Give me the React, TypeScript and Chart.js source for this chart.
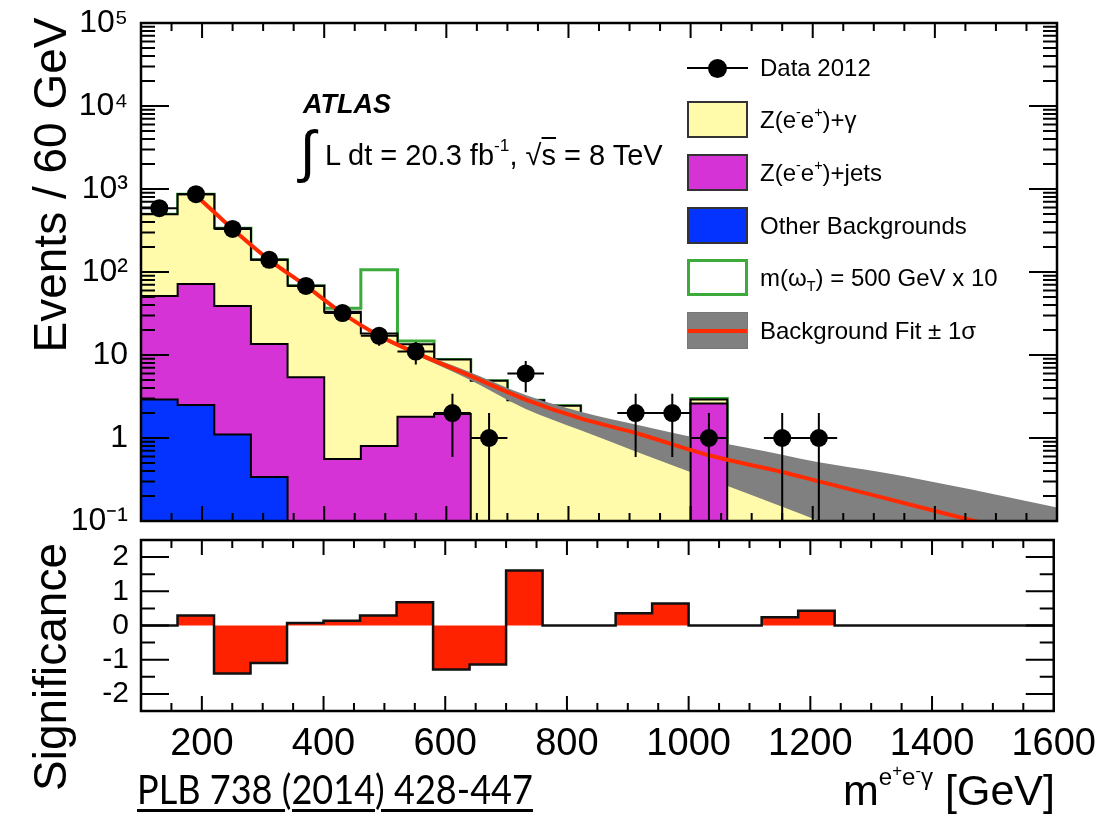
import React, { useEffect, useRef } from 'react';
import { Chart, registerables } from 'chart.js';

Chart.register(...registerables);

// ---------------- data ----------------
const BIN_LOW = [100, 160, 220, 280, 340, 400, 460, 520, 580, 640, 700, 760, 820, 880, 940, 1000, 1060, 1120, 1180, 1240, 1300, 1360, 1420, 1480, 1540];
const BIN_WIDTH = 60;
const X_MIN = 100;
const X_MAX = 1600;

const OTHER_BKG = [2.9, 2.5, 1.1, 0.34, 0, 0, 0, 0, 0, 0, 0, 0, 0, 0, 0, 0, 0, 0, 0, 0, 0, 0, 0, 0, 0];
const Z_JETS = [48.5, 69, 37.8, 13.2, 5.4, 0.56, 0.8, 1.8, 1.94, 0, 0, 0, 0, 0, 0, 2.6, 0, 0, 0, 0, 0, 0, 0, 0, 0];
const Z_GAMMA = [445, 793, 298, 127, 63, 32.6, 17.4, 11.7, 6.9, 4.9, 2.85, 2.45, 1.4, 1.1, 0.85, 0.3, 0.5, 0.3, 0.15, 0, 0, 0, 0, 0, 0];
const SIGNAL_X10 = [0, 0, 0, 0, 0, 3.3, 88, 1.2, 0, 0, 0, 0, 0, 0, 0, 0.1, 0, 0, 0, 0, 0, 0, 0, 0, 0];
const DATA_2012 = [587, 865, 330, 140, 68, 32, 17, 11, 2, 1, 6, 0, 0, 2, 2, 1, 0, 1, 1, 0, 0, 0, 0, 0, 0];
const DATA_ERR = [24, 29, 18, 12, 8.2, 5.7, 4.1, 3.3, 1.41, 1, 2.45, 0, 0, 1.41, 1.41, 1, 0, 1, 1, 0, 0, 0, 0, 0, 0];

const FIT_X = [195, 250, 310, 370, 430, 490, 550, 630, 730, 820, 910, 1030, 1150, 1210, 1310, 1460, 1600];
const FIT_Y = [775, 330, 140, 68, 31.8, 17.1, 10.6, 6.0, 2.9, 1.72, 1.15, 0.62, 0.39, 0.3, 0.195, 0.102, 0.057];
const BAND_X = [430, 490, 550, 630, 730, 820, 910, 1030, 1150, 1210, 1310, 1460, 1600];
const BAND_UP = [32.4, 17.6, 11.2, 6.6, 3.3, 2.07, 1.45, 0.93, 0.63, 0.51, 0.39, 0.24, 0.145];
const BAND_DOWN = [31.2, 16.2, 10.0, 5.4, 2.24, 1.24, 0.69, 0.32, 0.148, 0.1, 0.05, 0.02, 0.01];

const SIGNIFICANCE = [0, 0.29, -1.4, -1.1, 0.07, 0.14, 0.29, 0.68, -1.29, -1.14, 1.61, 0, 0, 0.36, 0.64, 0, 0, 0.24, 0.43, 0, 0, 0, 0, 0, 0];

const EVENT_TICKS = [0.1, 1, 10, 100, 1000, 10000, 100000];
const EVENT_TICK_LABELS = ['10\u207B\u00B9', '1', '10', '10\u00B2', '10\u00B3', '10\u2074', '10\u2075'];
const SIG_TICKS = [-2, -1, 0, 1, 2];
const X_TICKS = [200, 400, 600, 800, 1000, 1200, 1400, 1600];

// ---------------- styling ----------------
const SANS = '"Liberation Sans", Arial, Helvetica, sans-serif';
const NARROW = '"Liberation Sans Narrow", "Liberation Sans", Arial, sans-serif';
const COLORS = {
  yellow: '#fffbaa',
  magenta: '#d633d6',
  blue: '#0433ff',
  green: '#3cab3c',
  band: '#808080',
  fit: '#ff2a00',
  sig: '#ff2200',
};
const LOG_EMPTY = 1e-3; // empty bins on the log axis sit below its range

// tick-mark positions (axis decoration)
const X_MARKS: number[] = [];
for (let v = 150; v < X_MAX; v += 50) X_MARKS.push(v);
const LOG_MARKS: { v: number; major: boolean }[] = [];
for (const d of EVENT_TICKS) for (let k = 1; k <= 9; k++) LOG_MARKS.push({ v: k * d, major: k === 1 });
const SIG_MARKS: { v: number; major: boolean }[] = [];
for (let v = -2.5; v <= 2.5; v += 0.5) SIG_MARKS.push({ v, major: Number.isInteger(v) });

function stepPoints(vals: number[], floor?: number) {
  const pts = BIN_LOW.map((x, i) => ({ x, y: floor !== undefined ? Math.max(vals[i], floor) : vals[i] }));
  pts.push({ x: X_MAX, y: pts[pts.length - 1].y });
  return pts;
}
function sumArrays(...arrs: number[][]) {
  return arrs[0].map((_, i) => arrs.reduce((s, a) => s + a[i], 0));
}

function framePlugin(yMarks: { v: number; major: boolean }[]) {
  return {
    id: 'frameTicks',
    afterDatasetsDraw(chart: any) {
      const { ctx, chartArea: a } = chart;
      const xs = chart.scales.x;
      const ys = chart.scales.y;
      ctx.save();
      ctx.strokeStyle = '#000';
      ctx.lineWidth = 2;
      ctx.beginPath();
      for (const v of X_MARKS) {
        const px = xs.getPixelForValue(v);
        const len = v % 200 === 0 ? 15 : 8;
        ctx.moveTo(px, a.bottom);
        ctx.lineTo(px, a.bottom - len);
        ctx.moveTo(px, a.top);
        ctx.lineTo(px, a.top + len);
      }
      for (const m of yMarks) {
        const py = ys.getPixelForValue(m.v);
        if (py < a.top + 1 || py > a.bottom - 1) continue;
        const len = m.major ? 28 : 14;
        ctx.moveTo(a.left, py);
        ctx.lineTo(a.left + len, py);
        ctx.moveTo(a.right, py);
        ctx.lineTo(a.right - len, py);
      }
      ctx.stroke();
      ctx.lineWidth = 2.5;
      ctx.strokeRect(a.left, a.top, a.right - a.left, a.bottom - a.top);
      ctx.restore();
    },
  };
}

const errorBarPlugin = {
  id: 'errorBars',
  afterDatasetsDraw(chart: any) {
    const { ctx, chartArea: a } = chart;
    const xs = chart.scales.x;
    const ys = chart.scales.y;
    ctx.save();
    ctx.beginPath();
    ctx.rect(a.left, a.top, a.right - a.left, a.bottom - a.top);
    ctx.clip();
    ctx.strokeStyle = '#000';
    ctx.lineWidth = 2;
    ctx.beginPath();
    DATA_2012.forEach((n, i) => {
      if (n <= 0) return;
      const xc = xs.getPixelForValue(BIN_LOW[i] + BIN_WIDTH / 2);
      const x0 = xs.getPixelForValue(BIN_LOW[i]);
      const x1 = xs.getPixelForValue(BIN_LOW[i] + BIN_WIDTH);
      const y = ys.getPixelForValue(n);
      const lo = n - DATA_ERR[i];
      const yLo = lo > 0 ? ys.getPixelForValue(lo) : a.bottom;
      const yHi = ys.getPixelForValue(n + DATA_ERR[i]);
      ctx.moveTo(x0, y);
      ctx.lineTo(x1, y);
      ctx.moveTo(xc, yLo);
      ctx.lineTo(xc, yHi);
    });
    ctx.stroke();
    ctx.restore();
  },
};

// invisible grid ticks only provide the gap between tick labels and the frame
const Y_GRID = { display: true, drawOnChartArea: false, drawTicks: true, tickLength: 13, color: 'rgba(0,0,0,0)' };

function topConfig(): any {
  const stackOther = OTHER_BKG;
  const stackJets = sumArrays(OTHER_BKG, Z_JETS);
  const stackTotal = sumArrays(OTHER_BKG, Z_JETS, Z_GAMMA);
  const stackSignal = sumArrays(OTHER_BKG, Z_JETS, Z_GAMMA, SIGNAL_X10);
  const dataPts = DATA_2012.map((n, i) => ({ x: BIN_LOW[i] + BIN_WIDTH / 2, y: n })).filter((p) => p.y > 0);
  const step = { stepped: true, pointRadius: 0, tension: 0 };
  return {
    type: 'line',
    data: {
      datasets: [
        { ...step, label: 'signal', data: stepPoints(stackSignal, LOG_EMPTY), borderColor: COLORS.green, borderWidth: 3, fill: false, order: 10 },
        { ...step, label: 'Z+gamma', data: stepPoints(stackTotal, LOG_EMPTY), borderColor: '#000', borderWidth: 2, backgroundColor: COLORS.yellow, fill: { target: 2 }, order: 9 },
        { ...step, label: 'Z+jets', data: stepPoints(stackJets, LOG_EMPTY), borderColor: '#000', borderWidth: 2, backgroundColor: COLORS.magenta, fill: { target: 3 }, order: 7 },
        { ...step, label: 'other', data: stepPoints(stackOther, LOG_EMPTY), borderColor: '#000', borderWidth: 2, backgroundColor: COLORS.blue, fill: 'start', order: 6 },
        { label: 'band up', data: BAND_X.map((x, i) => ({ x, y: BAND_UP[i] })), pointRadius: 0, borderWidth: 0, borderColor: COLORS.band, backgroundColor: COLORS.band, cubicInterpolationMode: 'monotone', fill: { target: 5 }, order: 8 },
        { label: 'band down', data: BAND_X.map((x, i) => ({ x, y: BAND_DOWN[i] })), pointRadius: 0, borderWidth: 0, borderColor: COLORS.band, fill: false, cubicInterpolationMode: 'monotone', order: 8 },
        { label: 'fit', data: FIT_X.map((x, i) => ({ x, y: FIT_Y[i] })), pointRadius: 0, borderWidth: 4, borderColor: COLORS.fit, fill: false, cubicInterpolationMode: 'monotone', order: 5 },
        { label: 'data', data: dataPts, showLine: false, pointRadius: 9, pointBackgroundColor: '#000', pointBorderWidth: 0, borderColor: '#000', order: 4 },
      ],
    },
    options: {
      animation: false,
      responsive: false,
      devicePixelRatio: 1,
      events: [],
      layout: { padding: { top: 23, right: 42, left: 0, bottom: 0 } },
      plugins: { legend: { display: false }, tooltip: { enabled: false } },
      scales: {
        x: {
          type: 'linear', min: X_MIN, max: X_MAX,
          grid: { display: false }, border: { display: false },
          ticks: { display: false },
          afterFit: (s: any) => { s.height = 24; },
        },
        y: {
          type: 'logarithmic', min: 0.1, max: 100000,
          grid: Y_GRID, border: { display: false },
          afterBuildTicks: (s: any) => { s.ticks = EVENT_TICKS.map((v) => ({ value: v })); },
          ticks: {
            autoSkip: false, padding: 0, color: '#000',
            font: { family: NARROW, size: 32, lineHeight: 0.5 },
            callback: (v: number) => { const i = EVENT_TICKS.indexOf(v); return i >= 0 ? EVENT_TICK_LABELS[i] : ''; },
          },
          afterFit: (s: any) => { s.width = 141; },
        },
      },
    },
    plugins: [errorBarPlugin, framePlugin(LOG_MARKS)],
  };
}

function bottomConfig(): any {
  return {
    type: 'line',
    data: {
      datasets: [
        { label: 'significance', data: stepPoints(SIGNIFICANCE), stepped: true, pointRadius: 0, borderColor: '#111', borderWidth: 2.5, backgroundColor: COLORS.sig, fill: 'origin' },
      ],
    },
    options: {
      animation: false,
      responsive: false,
      devicePixelRatio: 1,
      events: [],
      layout: { padding: { top: 10, right: 42, left: 0, bottom: 0 } },
      plugins: { legend: { display: false }, tooltip: { enabled: false } },
      scales: {
        x: {
          type: 'linear', min: X_MIN, max: X_MAX,
          grid: { display: false }, border: { display: false },
          afterBuildTicks: (s: any) => { s.ticks = X_TICKS.map((v) => ({ value: v })); },
          ticks: { autoSkip: false, maxRotation: 0, minRotation: 0, padding: 3, color: '#000', font: { family: NARROW, size: 38 }, callback: (v: number) => String(v) },
          afterFit: (s: any) => { s.height = 114; },
        },
        y: {
          type: 'linear', min: -2.5, max: 2.5,
          grid: { ...Y_GRID, tickLength: 12 }, border: { display: false },
          afterBuildTicks: (s: any) => { s.ticks = SIG_TICKS.map((v) => ({ value: v })); },
          ticks: { autoSkip: false, padding: 0, color: '#000', font: { family: NARROW, size: 30, lineHeight: 0.5 }, callback: (v: number) => String(v) },
          afterFit: (s: any) => { s.width = 141; },
        },
      },
    },
    plugins: [framePlugin(SIG_MARKS)],
  };
}

// ---------------- text helpers ----------------
const Sup = ({ children, size = 0.6, raise = 0.75 }: any) => (
  <span style={{ fontSize: `${size}em`, position: 'relative', top: `-${raise}em` }}>{children}</span>
);
const Sub = ({ children, size = 0.6, drop = 0.4 }: any) => (
  <span style={{ fontSize: `${size}em`, position: 'relative', top: `${drop}em` }}>{children}</span>
);

const LEGEND_BOXES = [
  { top: 101, fill: COLORS.yellow, border: '2px solid #333', label: <>Z(e<Sup>-</Sup>e<Sup>+</Sup>)+γ</> },
  { top: 154, fill: COLORS.magenta, border: '2px solid #333', label: <>Z(e<Sup>-</Sup>e<Sup>+</Sup>)+jets</> },
  { top: 207, fill: COLORS.blue, border: '2px solid #333', label: <>Other Backgrounds</> },
  { top: 259, fill: '#fff', border: `3px solid ${COLORS.green}`, label: <>m(ω<Sub>T</Sub>) = 500 GeV x 10</> },
  { top: 312, fill: COLORS.band, border: '1px solid #777', label: <>Background Fit ± 1σ</>, redLine: true },
];

export default function App() {
  const topRef = useRef<HTMLCanvasElement>(null);
  const botRef = useRef<HTMLCanvasElement>(null);

  useEffect(() => {
    const top = new Chart(topRef.current as HTMLCanvasElement, topConfig());
    const bot = new Chart(botRef.current as HTMLCanvasElement, bottomConfig());
    return () => {
      top.destroy();
      bot.destroy();
    };
  }, []);

  const abs = (s: any) => ({ position: 'absolute' as const, whiteSpace: 'nowrap' as const, lineHeight: 1, ...s });

  return (
    <div style={{ position: 'absolute', left: 0, top: 0, width: 1099, height: 825, background: '#fff', overflow: 'hidden', fontFamily: SANS, color: '#000' }}>
      <canvas ref={topRef} width={1099} height={545} style={{ position: 'absolute', left: 0, top: 0, width: 1099, height: 545 }} />
      <canvas ref={botRef} width={1099} height={295} style={{ position: 'absolute', left: 0, top: 530, width: 1099, height: 295 }} />

      {/* ATLAS label */}
      <div style={abs({ left: 303, top: 91, fontSize: 27, fontWeight: 'bold', fontStyle: 'italic' })}>ATLAS</div>
      <div style={abs({ left: 300, top: 123, fontSize: 57 })}>∫</div>
      <div style={abs({ left: 325, top: 141, fontSize: 29 })}>
        L dt = 20.3 fb<Sup size={0.6} raise={0.8}>-1</Sup>, √<span style={{ textDecoration: 'overline' }}>s</span> = 8 TeV
      </div>

      {/* legend */}
      <div style={abs({ left: 687, top: 67, width: 61, height: 2, background: '#000' })} />
      <div style={abs({ left: 708, top: 58.5, width: 19, height: 19, borderRadius: '50%', background: '#000' })} />
      <div style={abs({ left: 760, top: 56, fontSize: 24, height: 24, lineHeight: '24px' })}>Data 2012</div>
      {LEGEND_BOXES.map((b, i) => (
        <React.Fragment key={i}>
          <div style={abs({ left: 687, top: b.top, width: 61, height: 37, boxSizing: 'border-box', background: b.fill, border: b.border })}>
            {b.redLine ? <div style={{ position: 'absolute', left: 0, right: 0, top: 16, height: 4, background: COLORS.fit }} /> : null}
          </div>
          <div style={abs({ left: 760, top: b.top + 18.5 - 12, fontSize: 24, height: 24, lineHeight: '24px' })}>{b.label}</div>
        </React.Fragment>
      ))}

      {/* axis titles */}
      <div style={abs({ left: 50, top: 185, fontSize: 46, transform: 'translate(-50%, -50%) rotate(-90deg)' })}>Events / 60 GeV</div>
      <div style={abs({ left: 50, top: 667, fontSize: 46, transform: 'translate(-50%, -50%) rotate(-90deg)' })}>Significance</div>
      <div style={abs({ right: 44, top: 769, fontSize: 43 })}>
        m<Sup size={0.56} raise={0.85}>e<Sup size={0.7} raise={0.5}>+</Sup>e<Sup size={0.7} raise={0.5}>-</Sup>γ</Sup> [GeV]
      </div>
      <div style={abs({ left: 137, top: 768, fontSize: 41, fontFamily: 'Lato, "Open Sans", sans-serif', transform: 'scaleX(0.88)', transformOrigin: 'left top', textDecoration: 'underline', textDecorationThickness: '2.5px', textUnderlineOffset: '5px' })}>
        PLB 738 (2014) 428-447
      </div>
    </div>
  );
}
